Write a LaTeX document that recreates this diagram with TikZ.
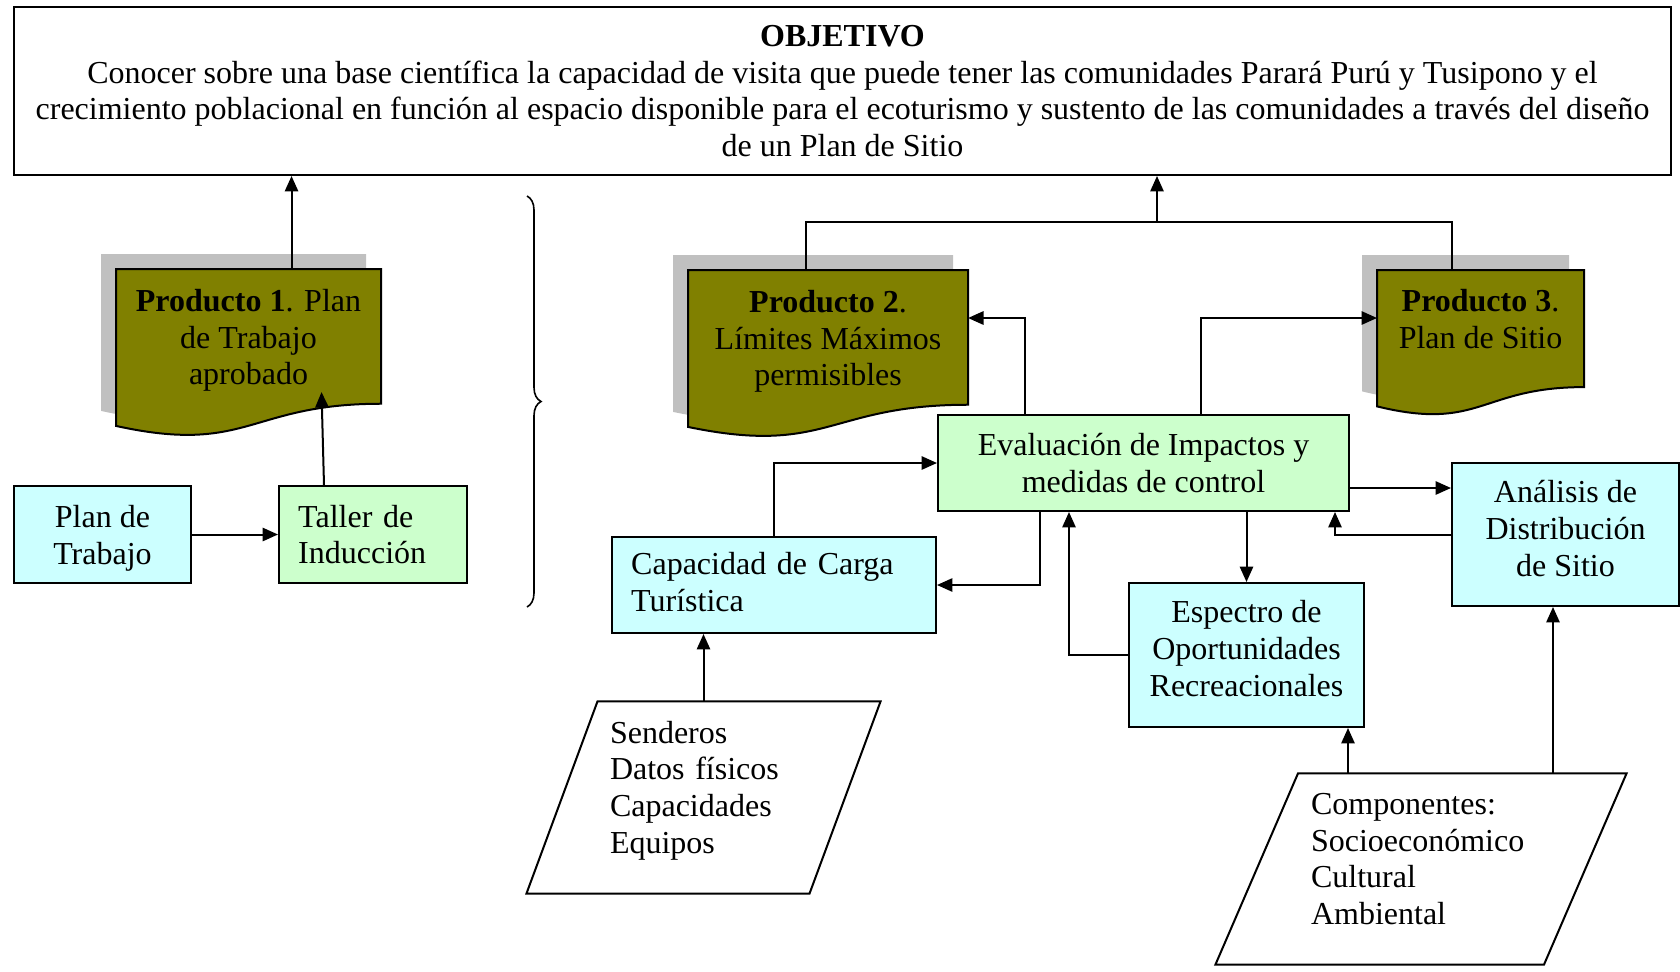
\documentclass[tikz,border=0pt]{standalone}
\usepackage{fontspec}
\setmainfont{Liberation Serif}
\usepackage{tikz}
\usetikzlibrary{arrows.meta}
\usetikzlibrary{positioning,calc,backgrounds}
\usetikzlibrary{decorations.pathreplacing}

\newdimen\pxu
\pxu=0.375pt

\definecolor{cyanfill}{HTML}{CCFFFF}
\definecolor{greenfill}{HTML}{CCFFCC}
\definecolor{prodfill}{HTML}{808000}
\definecolor{shadowgray}{HTML}{C0C0C0}

\tikzstyle{arrow} = [line width=0.75pt,-{Triangle[length=5.8pt,width=5pt]}]
\tikzstyle{objbox} = [
    rectangle, draw=black, line width=0.75pt, align=center,
    minimum width=1657\pxu, minimum height=168\pxu]
\tikzstyle{cyanbox} = [
    rectangle, draw=black, line width=0.75pt, fill=cyanfill, inner xsep=7.2pt]
\tikzstyle{greenbox} = [
    rectangle, draw=black, line width=0.75pt, fill=greenfill, inner xsep=7.2pt]
\tikzstyle{product} = [rectangle, align=center, inner sep=0pt]
\tikzstyle{datain} = [rectangle, align=left, inner ysep=0pt]

% product sheet with wavy bottom and grey shadow
\newcommand{\docshape}[2]{%
  \fill[shadowgray] ($(#1.north west)+(-15,-15)$) -- ($(#1.north east)+(-15,-15)$)
    -- ($(#1.north east)+(-15,0.802*#2-15)$)
    .. controls ($(#1.north)+(-15,0.802*#2-15)$) and ($(#1.north)+(-15,1.1075*#2-15)$)
    .. ($(#1.north west)+(-15,0.934*#2-15)$) -- cycle;
  \draw[line width=0.75pt, fill=prodfill] (#1.north west) -- (#1.north east)
    -- ($(#1.north east)+(0,0.802*#2)$)
    .. controls ($(#1.north)+(0,0.802*#2)$) and ($(#1.north)+(0,1.1075*#2)$)
    .. ($(#1.north west)+(0,0.934*#2)$) -- cycle;}

% input data (parallelogram)
\newcommand{\inshape}[3]{%
  \draw[line width=0.75pt] ($(#1.south west)+(-#2,#3)$) -- ($(#1.south east)+(-#2,#3)$)
    -- ($(#1.north east)+(#2,#3)$) -- ($(#1.north west)+(#2,#3)$) -- cycle;}

\begin{document}
\begin{tikzpicture}[x=0.375pt, y=-0.375pt, font=\fontsize{12pt}{13.8pt}\selectfont]
\useasboundingbox (0,0) rectangle (1680,972);

\node (obj) [objbox, anchor=north west] at (13,6) {
    \textbf{OBJETIVO}\\
    Conocer sobre una base científica la capacidad de visita que puede tener las comunidades Parará Purú y Tusipono y el\\
    crecimiento poblacional en función al espacio disponible para el ecoturismo y sustento de las comunidades a través del diseño\\
    de un Plan de Sitio
};

\node (plan) [cyanbox, align=center, minimum width=177\pxu, minimum height=97\pxu,
    text depth=0pt, anchor=north west] at (13,485) {Plan de\\Trabajo};
\node (taller) [greenbox, align=left, text width=56.1pt, minimum height=97\pxu,
    right=86\pxu of plan] {Taller de\\Inducción};

\node (p1) [product, minimum width=264\pxu, minimum height=135\pxu, text depth=0pt,
    anchor=north west] at (116,269) {\textbf{Producto 1}. Plan\\de Trabajo\\aprobado};
\node (p2) [product, minimum width=279\pxu, minimum height=135\pxu, text depth=0pt,
    anchor=north west] at (688,270) {\textbf{Producto 2}.\\Límites Máximos\\permisibles};
\node (p3) [product, minimum width=206\pxu, minimum height=97\pxu, anchor=north west]
    at (1377,270) {\textbf{Producto 3}.\\Plan de Sitio};

\begin{scope}[on background layer]
\docshape{p1}{168}
\docshape{p2}{168}
\docshape{p3}{146}
\end{scope}

\node (eval) [greenbox, align=center, minimum width=411\pxu, minimum height=96\pxu,
    anchor=north west] at (937,414) {Evaluación de Impactos y\\medidas de control};
\node (cap) [cyanbox, align=left, text width=107.1pt, minimum height=96\pxu, text depth=16pt,
    below left=24\pxu and 0pt of eval] {Capacidad de Carga\\Turística};
\node (esp) [cyanbox, align=center, minimum width=235\pxu, minimum height=144\pxu,
    text depth=4.8pt, anchor=north west] at (1128,582) {Espectro de\\Oportunidades\\Recreacionales};
\node (ana) [cyanbox, align=center, minimum width=227\pxu, minimum height=143\pxu,
    text depth=4.8pt, anchor=north west] at (1451,462) {Análisis de\\Distribución\\de Sitio};

\node (datos) [datain, text width=187\pxu, inner xsep=47.5\pxu, minimum height=191\pxu]
    at (703.5,790.5) {Senderos\\Datos físicos\\Capacidades\\Equipos};
\inshape{datos}{35.5}{7}
\node (comp) [datain, text width=220\pxu, inner xsep=53.75\pxu, minimum height=190\pxu]
    at (1421,859) {Componentes:\\Socioeconómico\\Cultural\\Ambiental};
\inshape{comp}{41.25}{10}

\draw[decorate, decoration={brace, amplitude=14\pxu}, line width=0.6pt] (527,196) -- (527,607);

\draw [arrow] (plan) -- (taller);
\draw [arrow] ($(taller.north)+(-49,0)$) -- ($(p1.south)+(73,-13)$);
\coordinate (p1up) at ($(p1.north)+(43,0)$);
\draw [arrow] (p1up) -- (p1up |- obj.south);

\coordinate (merge) at (1157,222);
\draw [line width=0.75pt] ($(p2.north)+(-22,0)$) |- (merge) -| ($(p3.north)+(-29,0)$);
\draw [arrow] (merge) -- (merge |- obj.south);

\draw [arrow] ($(eval.north west)+(88,0)$) |- ($(p2.north east)+(0,48)$);
\draw [arrow] ($(eval.north west)+(264,0)$) |- ($(p3.north west)+(0,48)$);
\draw [arrow] (cap.north) |- (eval.west);
\draw [arrow] ($(eval.south west)+(103,0)$) |- (cap.east);
\draw [arrow] (esp.north |- eval.south) -- (esp.north);
\draw [arrow] (esp.west) -| ($(eval.south west)+(132,0)$);
\coordinate (e2a) at ($(eval.east)+(0,25)$);
\draw [arrow] (e2a) -- (e2a -| ana.west);
\draw [arrow] (ana.west) -| ($(eval.south east)+(-15,0)$);

\coordinate (datup) at ($(datos.north)+(0,7)$);
\draw [arrow] (datup) -- (datup |- cap.south);
\coordinate (toesp) at ($(comp.north)+(-73,10)$);
\draw [arrow] (toesp) -- (toesp |- esp.south);
\coordinate (toana) at ($(comp.north)+(132,10)$);
\draw [arrow] (toana) -- (toana |- ana.south);
\end{tikzpicture}
\end{document}
